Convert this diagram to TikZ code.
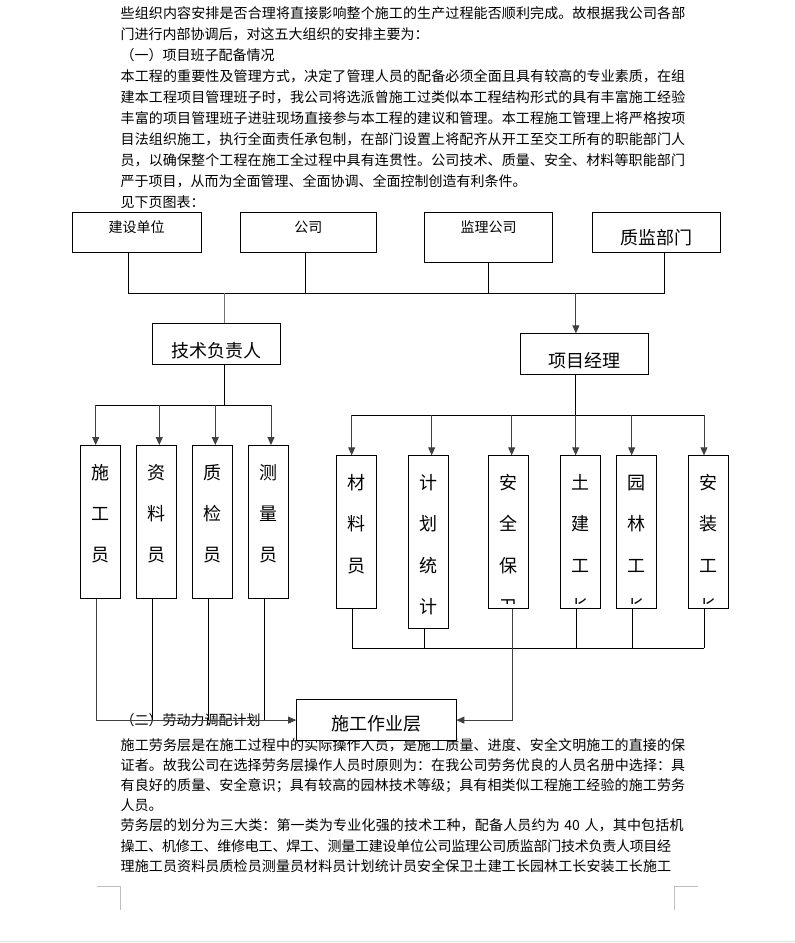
\documentclass[tikz,border=0pt]{standalone}
\usepackage{fontspec}
\setmainfont{Noto Sans CJK SC}
\usetikzlibrary{arrows.meta}
\XeTeXlinebreaklocale "zh"
\XeTeXlinebreakskip=0pt plus 1pt minus 0.4pt
\newcommand\jline[1]{{\parfillskip=0pt #1\par}}
\newcommand\jlinen[1]{{\parfillskip=0pt\rightskip=17.5pt #1\par}}

\begin{document}
\begin{tikzpicture}[x=1pt, y=-1pt,
    body/.style={anchor=base west, inner sep=0pt, text width=568pt,
                 font=\fontsize{14}{#1}\selectfont},
    headbox/.style={draw, fill=white, line width=0.9pt, inner sep=0pt,
                    anchor=north, minimum width=128pt},
    staff/.style={draw, fill=white, line width=0.9pt, inner sep=0pt, anchor=north,
                  minimum width=40pt, minimum height=153pt,
                  path picture={
                    \clip ([yshift=5pt]path picture bounding box.south west)
                          rectangle (path picture bounding box.north east);
                    \foreach \ch [count=\k from 0] in {#1}
                      \node[anchor=base, inner sep=0pt, font=\fontsize{18}{18}\selectfont]
                        at ([yshift={-33.8pt-41.3pt*\k}]path picture bounding box.north) {\ch};
                  }},
    conn/.style={line width=0.9pt},
    arr/.style={-{Triangle[length=8pt,width=7pt]}, line width=0.9pt, draw=black!75},
    cropline/.style={draw=black!25, line width=0.8pt}
]
    \useasboundingbox[fill=white] (0,0) rectangle (795,943);

    % Text of the page
    \node[body=21pt] (toptext) at (120.5,18.3) {%
\jline{些组织内容安排是否合理将直接影响整个施工的生产过程能否顺利完成。故根据我公司各部}
门进行内部协调后，对这五大组织的安排主要为：\par
（一）项目班子配备情况\par
\jline{本工程的重要性及管理方式，决定了管理人员的配备必须全面且具有较高的专业素质，在组}
\jline{建本工程项目管理班子时，我公司将选派曾施工过类似本工程结构形式的具有丰富施工经验}
\jline{丰富的项目管理班子进驻现场直接参与本工程的建议和管理。本工程施工管理上将严格按项}
\jline{目法组织施工，执行全面责任承包制，在部门设置上将配齐从开工至交工所有的职能部门人}
\jline{员，以确保整个工程在施工全过程中具有连贯性。公司技术、质量、安全、材料等职能部门}
严于项目，从而为全面管理、全面协调、全面控制创造有利条件。\par
见下页图表：};
    \node[body=20.17pt] (bottomtext) at (120.5,750.3) {%
\jline{施工劳务层是在施工过程中的实际操作人员，是施工质量、进度、安全文明施工的直接的保}
\jline{证者。故我公司在选择劳务层操作人员时原则为：在我公司劳务优良的人员名册中选择：具}
\jline{有良好的质量、安全意识；具有较高的园林技术等级；具有相类似工程施工经验的施工劳务}
人员。\par
\jline{劳务层的划分为三大类：第一类为专业化强的技术工种，配备人员约为 40 人，其中包括机}
\jlinen{操工、机修工、维修电工、焊工、测量工建设单位公司监理公司质监部门技术负责人项目经}
\jlinen{理施工员资料员质检员测量员材料员计划统计员安全保卫土建工长园林工长安装工长施工}};
    \node[anchor=base west, inner sep=0pt, font=\fontsize{14}{16}\selectfont]
        (laodong) at (120.5,725.3) {（二）劳动力调配计划};

    % Top boxes
    \node[headbox, minimum width=129pt, text height=20.6pt, text depth=20pt,
          font=\fontsize{14}{16}\selectfont] (jianshe) at (136.5,211.7) {建设单位};
    \node[headbox, minimum width=136.7pt, text height=20.6pt, text depth=20pt,
          font=\fontsize{14}{16}\selectfont] (gongsi) at (308.4,211.7) {公司};
    \node[headbox, text height=20.6pt, text depth=30pt,
          font=\fontsize{14}{16}\selectfont] (jianli) at (488.5,211.7) {监理公司};
    \node[headbox, minimum width=127.5pt, text height=32.4pt, text depth=8.2pt,
          font=\fontsize{18}{20}\selectfont] (zhijian) at (656.5,211.7) {质监部门};

    % Middle boxes
    \node[headbox, text height=34.2pt, text depth=6.8pt,
          font=\fontsize{18}{20}\selectfont] (jishu) at (216.4,323.3) {技术负责人};
    \node[headbox, text height=34.2pt, text depth=6.8pt,
          font=\fontsize{18}{20}\selectfont] (xiangmu) at (584.7,333.3) {项目经理};

    % Staff columns
    \node[staff={施,工,员}] (shigongyuan) at (100.5,445) {};
    \node[staff={资,料,员}] (ziliaoyuan) at (156.3,445) {};
    \node[staff={质,检,员}] (zhijianyuan) at (212.3,445) {};
    \node[staff={测,量,员}] (celiangyuan) at (268.3,445) {};
    \node[staff={材,料,员}] (cailiaoyuan) at (356.3,455.3) {};
    \node[staff={计,划,统,计,员}, minimum height=172.7pt] (jihua) at (428.3,455.3) {};
    \node[staff={安,全,保,卫}] (anquan) at (508.3,455.3) {};
    \node[staff={土,建,工,长}] (tujian) at (580.3,455.3) {};
    \node[staff={园,林,工,长}] (yuanlin) at (636.3,455.3) {};
    \node[staff={安,装,工,长}] (anzhuang) at (708.3,455.3) {};

    % Top bar
    \coordinate (barL) at (128.5,293.3);
    \coordinate (barR) at (664.3,293.3);
    \draw[conn] (jianshe.south -| barL) -- (barL) -- (barR) -- (zhijian.south -| barR);
    \draw[conn] ([xshift=-3.4]gongsi.south) -- ([xshift=-3.4]gongsi.south |- barL);
    \draw[conn] (jianli.south) -- (jianli.south |- barL);
    \draw[conn, draw=black!55] ([xshift=7.6]jishu.north |- barL) -- ([xshift=7.6]jishu.north);
    \draw[arr] ([xshift=-8.8]xiangmu.north |- barL) -- ([xshift=-8.8]xiangmu.north);

    % Left group
    \coordinate (lbrL) at (95.7,405);
    \coordinate (lbrR) at (271,405);
    \draw[conn] ([xshift=7.6]jishu.south) -- ([xshift=7.6]jishu.south |- lbrL);
    \draw[conn] (lbrL) -- (lbrR);
    \foreach \n/\dx in {shigongyuan/-4.8, ziliaoyuan/3, zhijianyuan/3, celiangyuan/2.7}
        \draw[arr] ([xshift=\dx]\n.north |- lbrL) -- ([xshift=\dx]\n.north);

    % Right group
    \coordinate (rbrL) at (351.7,415);
    \coordinate (rbrR) at (704,415);
    \draw[conn] ([xshift=-8.8]xiangmu.south) -- ([xshift=-8.8]xiangmu.south |- rbrL);
    \draw[conn] (rbrL) -- (rbrR);
    \foreach \n/\dx in {cailiaoyuan/-4.6, jihua/3.4, anquan/3.4, tujian/-4.6, yuanlin/-4.6, anzhuang/-4.3}
        \draw[arr] ([xshift=\dx]\n.north |- rbrL) -- ([xshift=\dx]\n.north);

    % Bottom box
    \node[headbox, minimum width=159.3pt, text height=30.8pt, text depth=9.9pt,
          font=\fontsize{18}{20}\selectfont] (zuoye) at (376.3,699.3) {施工作业层};

    % Lower connectors
    \coordinate (rbotL) at (352.3,648.3);
    \coordinate (rbotR) at (704,648.3);
    \foreach \n/\dx in {cailiaoyuan/-4, jihua/-3.6, tujian/-3.6, yuanlin/-4, anzhuang/-4.3}
        \draw[conn] ([xshift=\dx]\n.south) -- ([xshift=\dx]\n.south |- rbotL);
    \draw[conn] (rbotL) -- (rbotR);
    \draw[arr] ([xshift=4]anquan.south) |- (zuoye.east);
    \draw[arr] ([xshift=-4.5]shigongyuan.south) |- (zuoye.west);
    \foreach \n in {ziliaoyuan, zhijianyuan, celiangyuan}
        \draw[conn] ([xshift=-4]\n.south) -- ([xshift=-4]\n.south |- zuoye.west);

    % Page marks
    \draw[cropline] (97,886.7) -- (120.8,886.7) -- (120.8,910);
    \draw[cropline] (698,886.7) -- (674.7,886.7) -- (674.7,910);
    \draw[draw=black!12] (0,941.5) -- (795,941.5);
\end{tikzpicture}
\end{document}
